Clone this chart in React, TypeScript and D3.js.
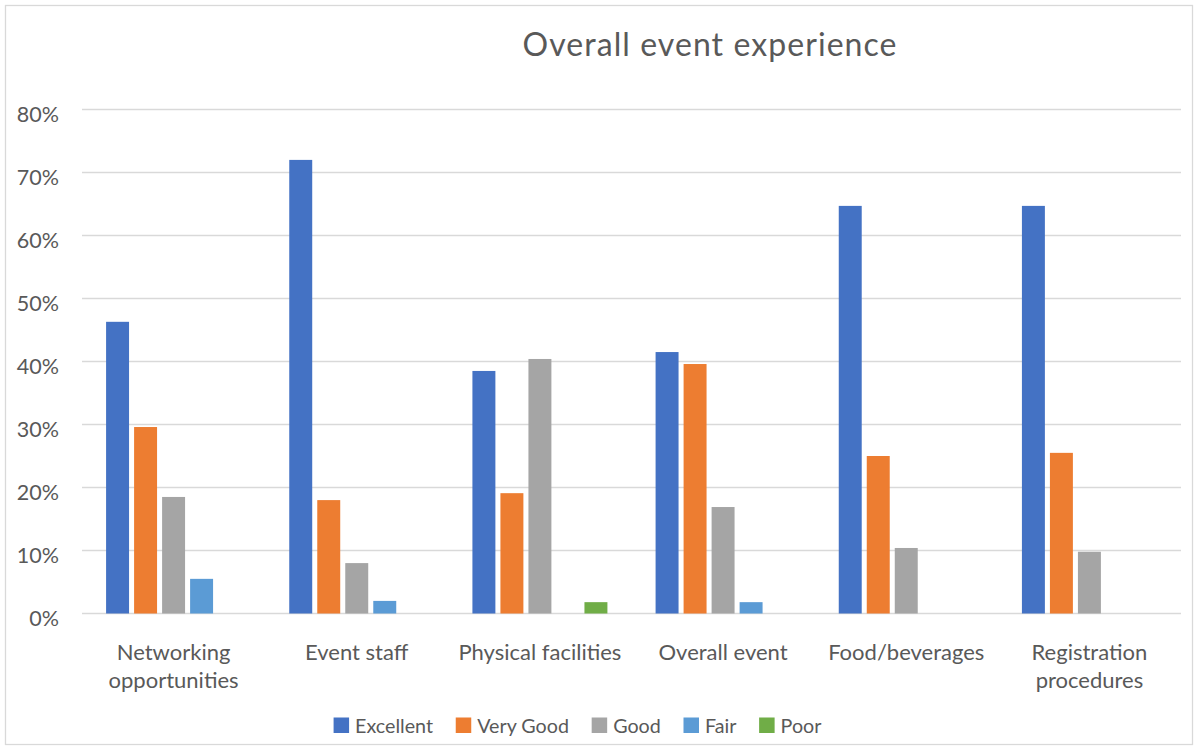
import React, { useEffect, useRef } from "react";
import * as d3 from "d3";

const categories = [
  "Networking opportunities",
  "Event staff",
  "Physical facilities",
  "Overall event",
  "Food/beverages",
  "Registration procedures",
];
const seriesNames = ["Excellent", "Very Good", "Good", "Fair", "Poor"];
const excellent = [46.3, 72.0, 38.5, 41.5, 64.7, 64.7];
const veryGood = [29.6, 18.0, 19.1, 39.6, 25.0, 25.5];
const good = [18.5, 8.0, 40.4, 16.9, 10.4, 9.8];
const fair = [5.5, 2.0, 0, 1.8, 0, 0];
const poor = [0, 0, 1.8, 0, 0, 0];
const yTicks = [0, 10, 20, 30, 40, 50, 60, 70, 80];
const colors = ["#4472C4", "#ED7D31", "#A5A5A5", "#5B9BD5", "#70AD47"];

const W = 1198;
const H = 749;
const FONT = "Lato, 'Open Sans', sans-serif";
const TEXT = "#595959";
const GRID = "#D9D9D9";

export default function App() {
  const ref = useRef<SVGSVGElement>(null);

  useEffect(() => {
    const svg = d3.select(ref.current);
    svg.selectAll("*").remove();
    const values = [excellent, veryGood, good, fair, poor];

    svg
      .append("rect")
      .attr("x", 5.5)
      .attr("y", 5.5)
      .attr("width", W - 11)
      .attr("height", H - 10)
      .attr("fill", "#fff")
      .attr("stroke", GRID)
      .attr("stroke-width", 1.3);

    const y = d3.scaleLinear().domain([0, 80]).range([613.5, 109.5]);
    const x0 = d3
      .scaleBand<string>()
      .domain(categories)
      .range([82, 1181])
      .paddingInner(0.263)
      .paddingOuter(0.1315);
    const x1 = d3
      .scaleBand<string>()
      .domain(seriesNames)
      .range([0, x0.bandwidth()])
      .paddingInner(0.18);

    // title
    svg
      .append("text")
      .attr("x", 709.5)
      .attr("y", 56)
      .attr("text-anchor", "middle")
      .attr("font-family", FONT)
      .attr("font-size", 32)
      .attr("fill", TEXT)
      .attr("textLength", 374)
      .attr("lengthAdjust", "spacing")
      .text("Overall event experience");

    // gridlines
    const g = svg.append("g");
    g.selectAll("line.grid")
      .data(yTicks)
      .enter()
      .append("line")
      .attr("x1", 82)
      .attr("x2", 1181)
      .attr("y1", (d) => y(d))
      .attr("y2", (d) => y(d))
      .attr("stroke", GRID)
      .attr("stroke-width", 1.3);

    g.selectAll("text.tick")
      .data(yTicks)
      .enter()
      .append("text")
      .attr("x", 59)
      .attr("y", (d) => y(d) + 12.5)
      .attr("text-anchor", "end")
      .attr("font-family", FONT)
      .attr("font-size", 21.5)
      .attr("fill", TEXT)
      .text((d) => d + "%");

    // bars
    seriesNames.forEach((s, si) => {
      svg
        .append("g")
        .selectAll("rect")
        .data(categories.map((c, ci) => ({ c, v: values[si][ci] })).filter((d) => d.v > 0))
        .enter()
        .append("rect")
        .attr("x", (d) => (x0(d.c) as number) + (x1(s) as number))
        .attr("y", (d) => y(d.v))
        .attr("width", x1.bandwidth())
        .attr("height", (d) => y(0) - y(d.v))
        .attr("fill", colors[si]);
    });

    // category labels with wrapping
    const step = x0.step();
    categories.forEach((c) => {
      const cx = (x0(c) as number) + x0.bandwidth() / 2;
      const t = svg
        .append("text")
        .attr("x", cx)
        .attr("y", 659.5)
        .attr("text-anchor", "middle")
        .attr("font-family", FONT)
        .attr("font-size", 22)
        .attr("fill", TEXT)
        .text(c);
      const len = (t.node() as SVGTextElement).getComputedTextLength();
      if (len > step - 8) {
        const words = c.split(" ");
        t.text(null);
        words.forEach((w, i) => {
          t.append("tspan").attr("x", cx).attr("dy", i === 0 ? 0 : 28).text(w);
        });
      }
    });

    // legend
    const lg = svg.append("g");
    const sq = 15.5;
    const gapText = 6;
    const gapItem = 22.7;
    const legendFont = 19.7;
    let cursor = 0;
    const items: { x: number; s: string; i: number }[] = [];
    const tmp = lg.append("g");
    const widths = seriesNames.map((s) => {
      const t = tmp
        .append("text")
        .attr("font-family", FONT)
        .attr("font-size", legendFont)
        .text(s);
      return (t.node() as SVGTextElement).getComputedTextLength();
    });
    tmp.remove();
    seriesNames.forEach((s, i) => {
      items.push({ x: cursor, s, i });
      cursor += sq + gapText + widths[i] + (i < seriesNames.length - 1 ? gapItem : 0);
    });
    const startX = 577.5 - cursor / 2;
    items.forEach((it) => {
      lg.append("rect")
        .attr("x", startX + it.x)
        .attr("y", 717.5)
        .attr("width", sq)
        .attr("height", sq)
        .attr("fill", colors[it.i]);
      lg.append("text")
        .attr("x", startX + it.x + sq + gapText)
        .attr("y", 733)
        .attr("font-family", FONT)
        .attr("font-size", legendFont)
        .attr("fill", TEXT)
        .text(it.s);
    });
  }, []);

  return (
    <svg
      ref={ref}
      width={W}
      height={H}
      style={{ position: "absolute", left: 0, top: 0, background: "#fff" }}
    />
  );
}
